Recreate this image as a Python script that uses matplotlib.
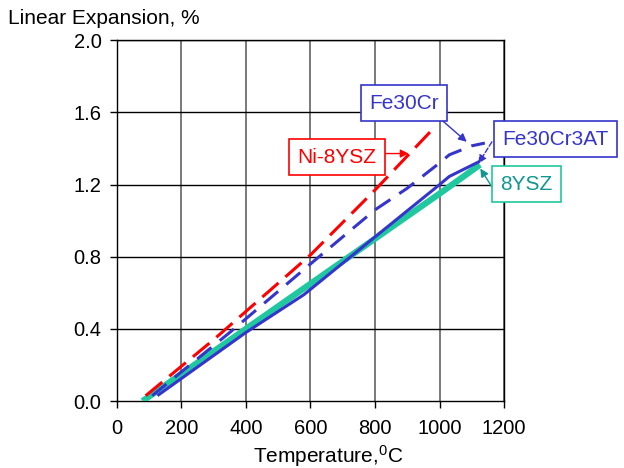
import matplotlib
matplotlib.use("Agg")
import matplotlib.pyplot as plt

plt.rcParams['font.family'] = ['Liberation Sans', 'DejaVu Sans']
plt.rcParams['mathtext.fontset'] = 'custom'
plt.rcParams['mathtext.rm'] = 'Liberation Sans'
plt.rcParams['mathtext.default'] = 'regular'

# donnees (temperature en C, dilatation en %)
temp_8ysz = [80, 400, 600, 800, 1000, 1125]
exp_8ysz = [0.0, 0.40, 0.65, 0.90, 1.15, 1.31]

temp_ni = [90, 300, 600, 800, 975]
exp_ni = [0.03, 0.34, 0.81, 1.17, 1.50]

temp_fe30cr = [110, 350, 600, 800, 900, 1000, 1030, 1100, 1140]
exp_fe30cr = [0.03, 0.38, 0.76, 1.06, 1.18, 1.32, 1.365, 1.415, 1.43]

temp_fe30cr3at = [130, 400, 580, 800, 1000, 1030, 1120]
exp_fe30cr3at = [0.035, 0.38, 0.59, 0.91, 1.20, 1.245, 1.325]

x_ticks = [0, 200, 400, 600, 800, 1000, 1200]
y_ticks = [0.0, 0.4, 0.8, 1.2, 1.6, 2.0]

RED = '#ff0000'
BLUE = '#3535cc'
GREEN = '#20c8a0'
TEAL_TXT = '#109890'

fig = plt.figure(figsize=(6.24, 4.68), dpi=100)
ax = fig.add_axes([0.187, 0.143, 0.621, 0.771])

ax.plot(temp_8ysz, exp_8ysz, color=GREEN, lw=4.5, solid_capstyle='butt', zorder=3)
ax.plot(temp_fe30cr3at, exp_fe30cr3at, color=BLUE, lw=2.2, zorder=4)
ax.plot(temp_fe30cr, exp_fe30cr, color=BLUE, lw=2.2, dashes=(6, 3.5), zorder=4)
ax.plot(temp_ni, exp_ni, color=RED, lw=2.2, dashes=(7, 3), zorder=4)

ax.set_xlim(0, 1200)
ax.set_ylim(0, 2.0)
ax.set_xticks(x_ticks)
ax.set_yticks(y_ticks)
ax.set_yticklabels([f"{v:.1f}" for v in y_ticks])
ax.tick_params(direction='out', length=5, width=1, labelsize=14.5, color='black')
ax.tick_params(axis='x', pad=8)
ax.tick_params(axis='y', pad=6)
for v in x_ticks[1:]:
    ax.axvline(v, color='#555555', lw=1.1, zorder=1)
for v in y_ticks[1:]:
    ax.axhline(v, color='black', lw=1.0, zorder=1)
for s in ax.spines.values():
    s.set_linewidth(1.0)

fig.text(8 / 624, 1 - 18 / 468, "Linear Expansion, %", fontsize=15, ha='left', va='center')
fig.text(328 / 624, 1 - 456 / 468, r"Temperature,$^{0}$C", fontsize=15, ha='center', va='center')

# etiquettes encadrees
labels = [
    ("Ni-8YSZ", 682, 1.352, RED, RED),
    ("Fe30Cr", 890, 1.651, BLUE, BLUE),
    ("Fe30Cr3AT", 1358, 1.452, BLUE, BLUE),
    ("8YSZ", 1268, 1.202, TEAL_TXT, GREEN),
]
for txt, x, y, c, ec in labels:
    ax.text(x, y, txt, color=c, fontsize=15, ha='center', va='center', clip_on=False, zorder=6,
            bbox=dict(boxstyle='square,pad=0.4', fc='white', ec=ec, lw=1.2))

arrows = [
    ((826, 1.372), (904, 1.372), RED, '-'),
    ((1007, 1.557), (1084, 1.437), BLUE, '-'),
    ((1162, 1.437), (1120, 1.317), BLUE, '--'),
    ((1162, 1.187), (1126, 1.289), TEAL_TXT, '-'),
]
for start, tip, c, ls in arrows:
    ax.annotate("", xy=tip, xytext=start, annotation_clip=False, zorder=5,
                arrowprops=dict(arrowstyle='-|>', color=c, lw=1.0, ls=ls,
                                mutation_scale=12, shrinkA=0, shrinkB=0))

fig.savefig("out.png", dpi=100)
